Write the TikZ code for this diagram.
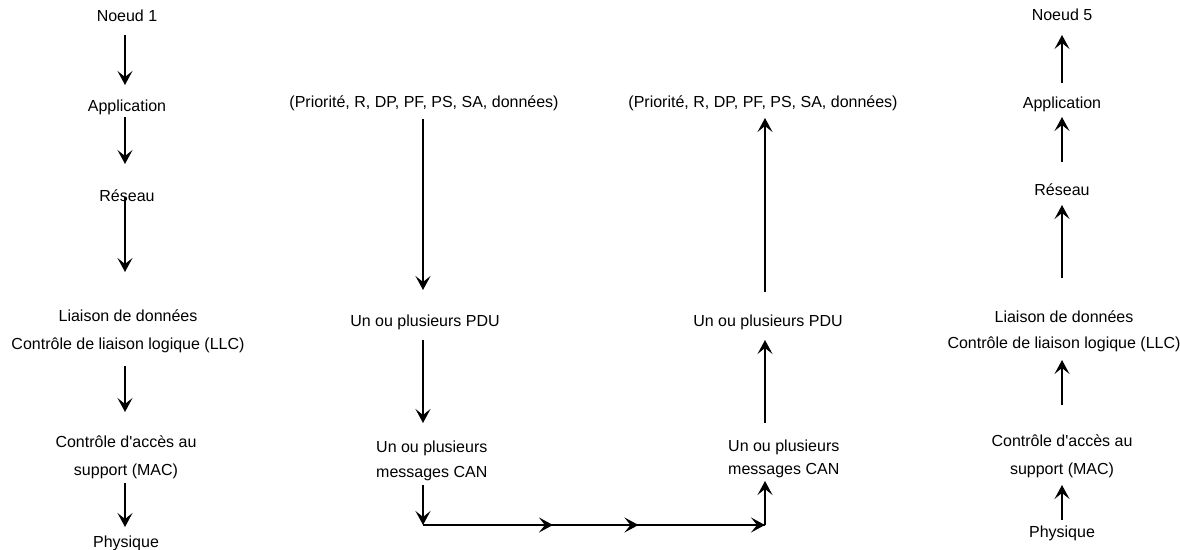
\documentclass[tikz,border=0pt]{standalone}
\usepackage{fontspec}
\setmainfont{Liberation Sans}
\newfontfamily\lsans{Liberation Sans}
\usetikzlibrary{arrows.meta,calc}
\begin{document}
\begin{tikzpicture}[x=1pt,y=-1pt,
  lbl/.style={inner sep=0pt,font=\lsans\fontsize{16}{28}\selectfont,align=center},
  lbll/.style={inner sep=0pt,font=\lsans\fontsize{16}{25}\selectfont,align=left,anchor=west},
  arr/.style={line width=1.8pt,-{Stealth[length=14pt,width=15pt,inset=6pt]}},
  ln/.style={line width=1.8pt}]
\useasboundingbox (0,0) rectangle (1180,549);
% left column
\coordinate (cx1) at (125,0);
\node[lbl] (n1) at (127,16) {Noeud 1};
\node[lbl] (a1) at (127,107) {Application};
\node[lbl] (r1) at (127,196) {Réseau};
\node[lbl] (l1) at (128,331) {Liaison de données\\Contrôle de liaison logique (LLC)};
\node[lbl] (m1) at (126,457) {Contrôle d'accès au\\support (MAC)};
\node[lbl] (p1) at (126,543) {Physique};
\draw[arr] ([yshift=-19pt]n1.center -| cx1) -- ([yshift=22pt]a1.center -| cx1);
\draw[arr] ([yshift=-10pt]a1.center -| cx1) -- ([yshift=32pt]r1.center -| cx1);
\draw[arr] ([yshift=-1pt]r1.center -| cx1) -- ([yshift=59pt]l1.center -| cx1);
\draw[arr] ([yshift=-35pt]l1.center -| cx1) -- ([yshift=45pt]m1.center -| cx1);
\draw[arr] ([yshift=-26pt]m1.center -| cx1) -- ([yshift=16pt]p1.center -| cx1);
% middle left column
\node[lbl] (d2) at (424,103) {(Priorité, R, DP, PF, PS, SA, données)};
\node[lbl] (u2) at (425,322) {Un ou plusieurs PDU};
\node[lbll] (c2) at (376,461) {Un ou plusieurs\\messages CAN};
\coordinate (b1) at (423,525);
\coordinate (b2) at (765,525);
\draw[arr] ([yshift=-8pt]d2.south -| b1) -- ([yshift=32pt]u2.center -| b1);
\draw[arr] ([yshift=-18pt]u2.center -| b1) -- ([yshift=38pt]c2.center -| b1);
\draw[arr] ([yshift=-24pt]c2.center -| b1) -- (b1);
\draw[ln] (b1) -- (b2);
\draw[arr] (b1) -- ($(b1)!0.38!(b2)$);
\draw[arr] (b1) -- ($(b1)!0.63!(b2)$);
\draw[arr] (b1) -- (b2);
% middle right column
\node[lbl] (d3) at (763,103) {(Priorité, R, DP, PF, PS, SA, données)};
\node[lbl] (u3) at (768,322) {Un ou plusieurs PDU};
\node[lbll, font=\lsans\fontsize{16}{23}\selectfont] (c3) at (728,459) {Un ou plusieurs\\messages CAN};
\draw[arr] (b2) -- ([yshift=-22pt]c3.center -| b2);
\draw[arr] ([yshift=36pt]c3.center -| b2) -- ([yshift=-18pt]u3.center -| b2);
\draw[arr] ([yshift=30pt]u3.center -| b2) -- ([yshift=-15pt]d3.center -| b2);
% right column
\node[lbl] (n5) at (1062,15) {Noeud 5};
\node[lbl] (a5) at (1062,104) {Application};
\node[lbl] (r5) at (1062,190) {Réseau};
\node[lbl, font=\lsans\fontsize{16}{26}\selectfont] (l5) at (1064,331) {Liaison de données\\Contrôle de liaison logique (LLC)};
\node[lbl] (m5) at (1062,456) {Contrôle d'accès au\\support (MAC)};
\node[lbl] (p5) at (1062,533) {Physique};
\draw[arr] ([yshift=21pt]a5.center) -- ([yshift=-20pt]n5.center);
\draw[arr] ([yshift=28pt]r5.center) -- ([yshift=-13pt]a5.center);
\draw[arr] ([yshift=53pt]l5.center -| a5) -- ([yshift=-15pt]r5.center);
\draw[arr] ([yshift=51pt]m5.center) -- ([yshift=-29pt]l5.center -| a5);
\draw[arr] ([yshift=13pt]p5.center) -- ([yshift=-29pt]m5.center);
\end{tikzpicture}
\end{document}
